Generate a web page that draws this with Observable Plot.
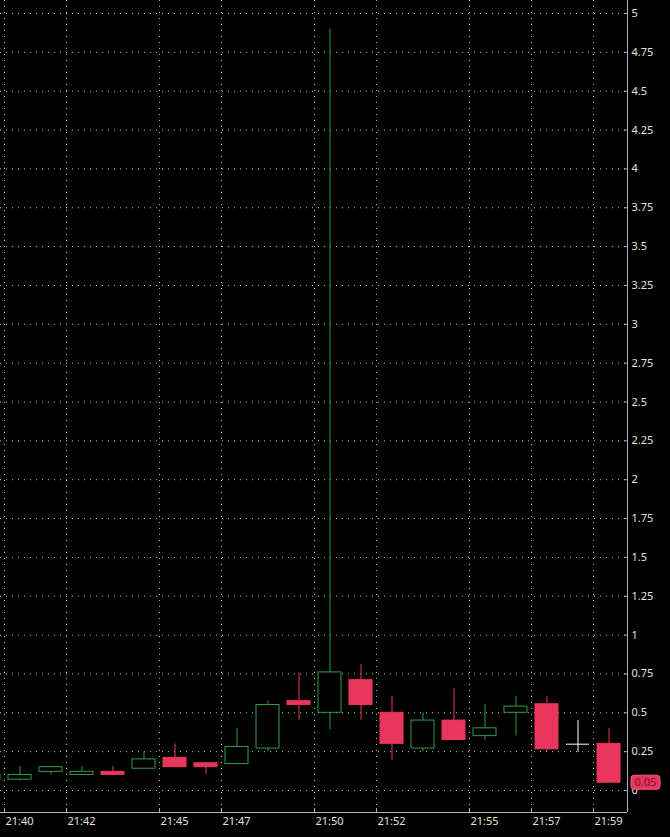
<!DOCTYPE html>
<html>
<head>
<meta charset="utf-8">
<script src="https://cdn.jsdelivr.net/npm/d3@7"></script>
<script src="https://cdn.jsdelivr.net/npm/@observablehq/plot@0.6"></script>
<style>
  html, body { margin: 0; padding: 0; background: #000; }
  #chart svg { display: block; }
</style>
</head>
<body>
<div id="chart"></div>
<script>
// ---- data ----
const times  = ["21:39","21:40","21:41","21:42","21:43","21:44","21:45","21:46","21:47","21:48","21:49","21:50","21:51","21:52","21:53","21:54","21:55","21:56","21:57","21:59"];
const opens  = [0.07, 0.07, 0.12, 0.10, 0.12, 0.14, 0.21, 0.175, 0.17, 0.27, 0.575, 0.50, 0.71, 0.50, 0.27, 0.45, 0.35, 0.50, 0.555, 0.30];
const highs  = [0.10, 0.155, 0.15, 0.155, 0.155, 0.25, 0.30, 0.18, 0.40, 0.575, 0.76, 4.90, 0.81, 0.605, 0.50, 0.655, 0.555, 0.605, 0.605, 0.40];
const lows   = [0.07, 0.06, 0.10, 0.10, 0.10, 0.14, 0.15, 0.10, 0.17, 0.25, 0.45, 0.39, 0.45, 0.195, 0.25, 0.32, 0.32, 0.35, 0.25, 0.05];
const closes = [0.10, 0.10, 0.15, 0.12, 0.10, 0.20, 0.15, 0.15, 0.28, 0.55, 0.55, 0.76, 0.55, 0.30, 0.45, 0.325, 0.40, 0.54, 0.265, 0.05];

const xTickLabels = ["21:40","21:42","21:45","21:47","21:50","21:52","21:55","21:57","21:59"];
const yTickValues = [0, 0.25, 0.5, 0.75, 1, 1.25, 1.5, 1.75, 2, 2.25, 2.5, 2.75, 3, 3.25, 3.5, 3.75, 4, 4.25, 4.5, 4.75, 5];

// mouse cursor crosshair seen in the screenshot
const cursorTimes  = ["21:58"];
const cursorPrices = [0.298];
const cursorTops   = [0.45];
const cursorBottoms= [0.245];

const lastPriceLabel = "0.05";

// ---- build ----
const GREEN = "#2e9e48";
const RED = "#e8365d";
const AXIS = "#a9b1bd";
const GRID = "#bdbdbd";
const TEXT = "#e2e4da";

const toMin = s => { const [h, m] = s.split(":").map(Number); return h * 60 + m; };
const fmtMin = v => `${Math.floor(v / 60)}:${String(v % 60).padStart(2, "0")}`;

const candles = times.map((t, i) => ({
  t: toMin(t), open: opens[i], high: highs[i], low: lows[i], close: closes[i],
  up: closes[i] >= opens[i]
}));
const cursor = cursorTimes.map((t, i) => ({
  t: toMin(t), price: cursorPrices[i], top: cursorTops[i], bottom: cursorBottoms[i]
}));
const xTicks = xTickLabels.map(toMin);

const x0 = toMin("21:40");
const xDomain = [x0 - 4 / 31, x0 + 623 / 31];
const yDomain = [-0.1416, 5.0837];

const chart = Plot.plot({
  width: 670,
  height: 837,
  marginLeft: 0,
  marginRight: 43,
  marginTop: 0,
  marginBottom: 25,
  style: { background: "#000", color: TEXT, fontFamily: "'Noto Sans', sans-serif", fontSize: "11px" },
  x: { type: "linear", domain: xDomain },
  y: { domain: yDomain },
  marks: [
    Plot.gridY(yTickValues, { stroke: GRID, strokeOpacity: 1, strokeDasharray: "1,5" }),
    Plot.gridX(xTicks, { stroke: GRID, strokeOpacity: 1, strokeDasharray: "1,5" }),
    Plot.ruleX(candles, { x: d => d.t + 0.5, y1: "low", y2: "high", stroke: d => d.up ? GREEN : RED, clip: true }),
    Plot.rect(candles, {
      x1: "t", x2: d => d.t + 1, y1: "open", y2: "close",
      insetLeft: 4, insetRight: 4,
      fill: d => d.up ? "#000" : RED, stroke: d => d.up ? GREEN : RED, clip: true
    }),
    Plot.ruleX(cursor, { x: d => d.t + 0.5, y1: "bottom", y2: "top", stroke: "#fff" }),
    Plot.ruleY(cursor, { y: "price", x1: d => d.t + 0.13, x2: d => d.t + 0.87, stroke: "#fff" }),
    Plot.ruleY([yDomain[0]], { stroke: AXIS }),
    Plot.ruleX([xDomain[1]], { stroke: AXIS }),
    Plot.axisY(yTickValues, { anchor: "right", tickSize: 4, dx: -4, fill: "none", stroke: AXIS, label: null }),
    Plot.axisY(yTickValues, { anchor: "right", tickSize: 0, tickPadding: 4, tickFormat: d => String(d), fill: TEXT, label: null }),
    Plot.axisX(xTicks, { anchor: "bottom", tickSize: 4, dy: -4, fill: "none", stroke: AXIS, label: null }),
    Plot.axisX(xTicks, { anchor: "bottom", tickSize: 0, tickPadding: 5, tickFormat: fmtMin, textAnchor: "start", dx: 1, fill: TEXT, label: null })
  ]
});

document.getElementById("chart").appendChild(chart);

// last-price tag on the right axis
const yS = chart.scale("y");
const xS = chart.scale("x");
const lastClose = closes[closes.length - 1];
const py = yS.apply(lastClose);
const px = xS.apply(xDomain[1]) + 4;
const tag = d3.select(chart).append("g");
tag.append("rect")
  .attr("x", px).attr("y", py - 7).attr("width", 29).attr("height", 14)
  .attr("rx", 3).attr("fill", RED).attr("stroke", "#f06080");
tag.append("text")
  .attr("x", px + 14.5).attr("y", py).attr("dy", "0.35em")
  .attr("text-anchor", "middle").attr("fill", "#7a0c24")
  .attr("font-family", "'Noto Sans', sans-serif").attr("font-size", "11px")
  .text(lastPriceLabel);
</script>
</body>
</html>
